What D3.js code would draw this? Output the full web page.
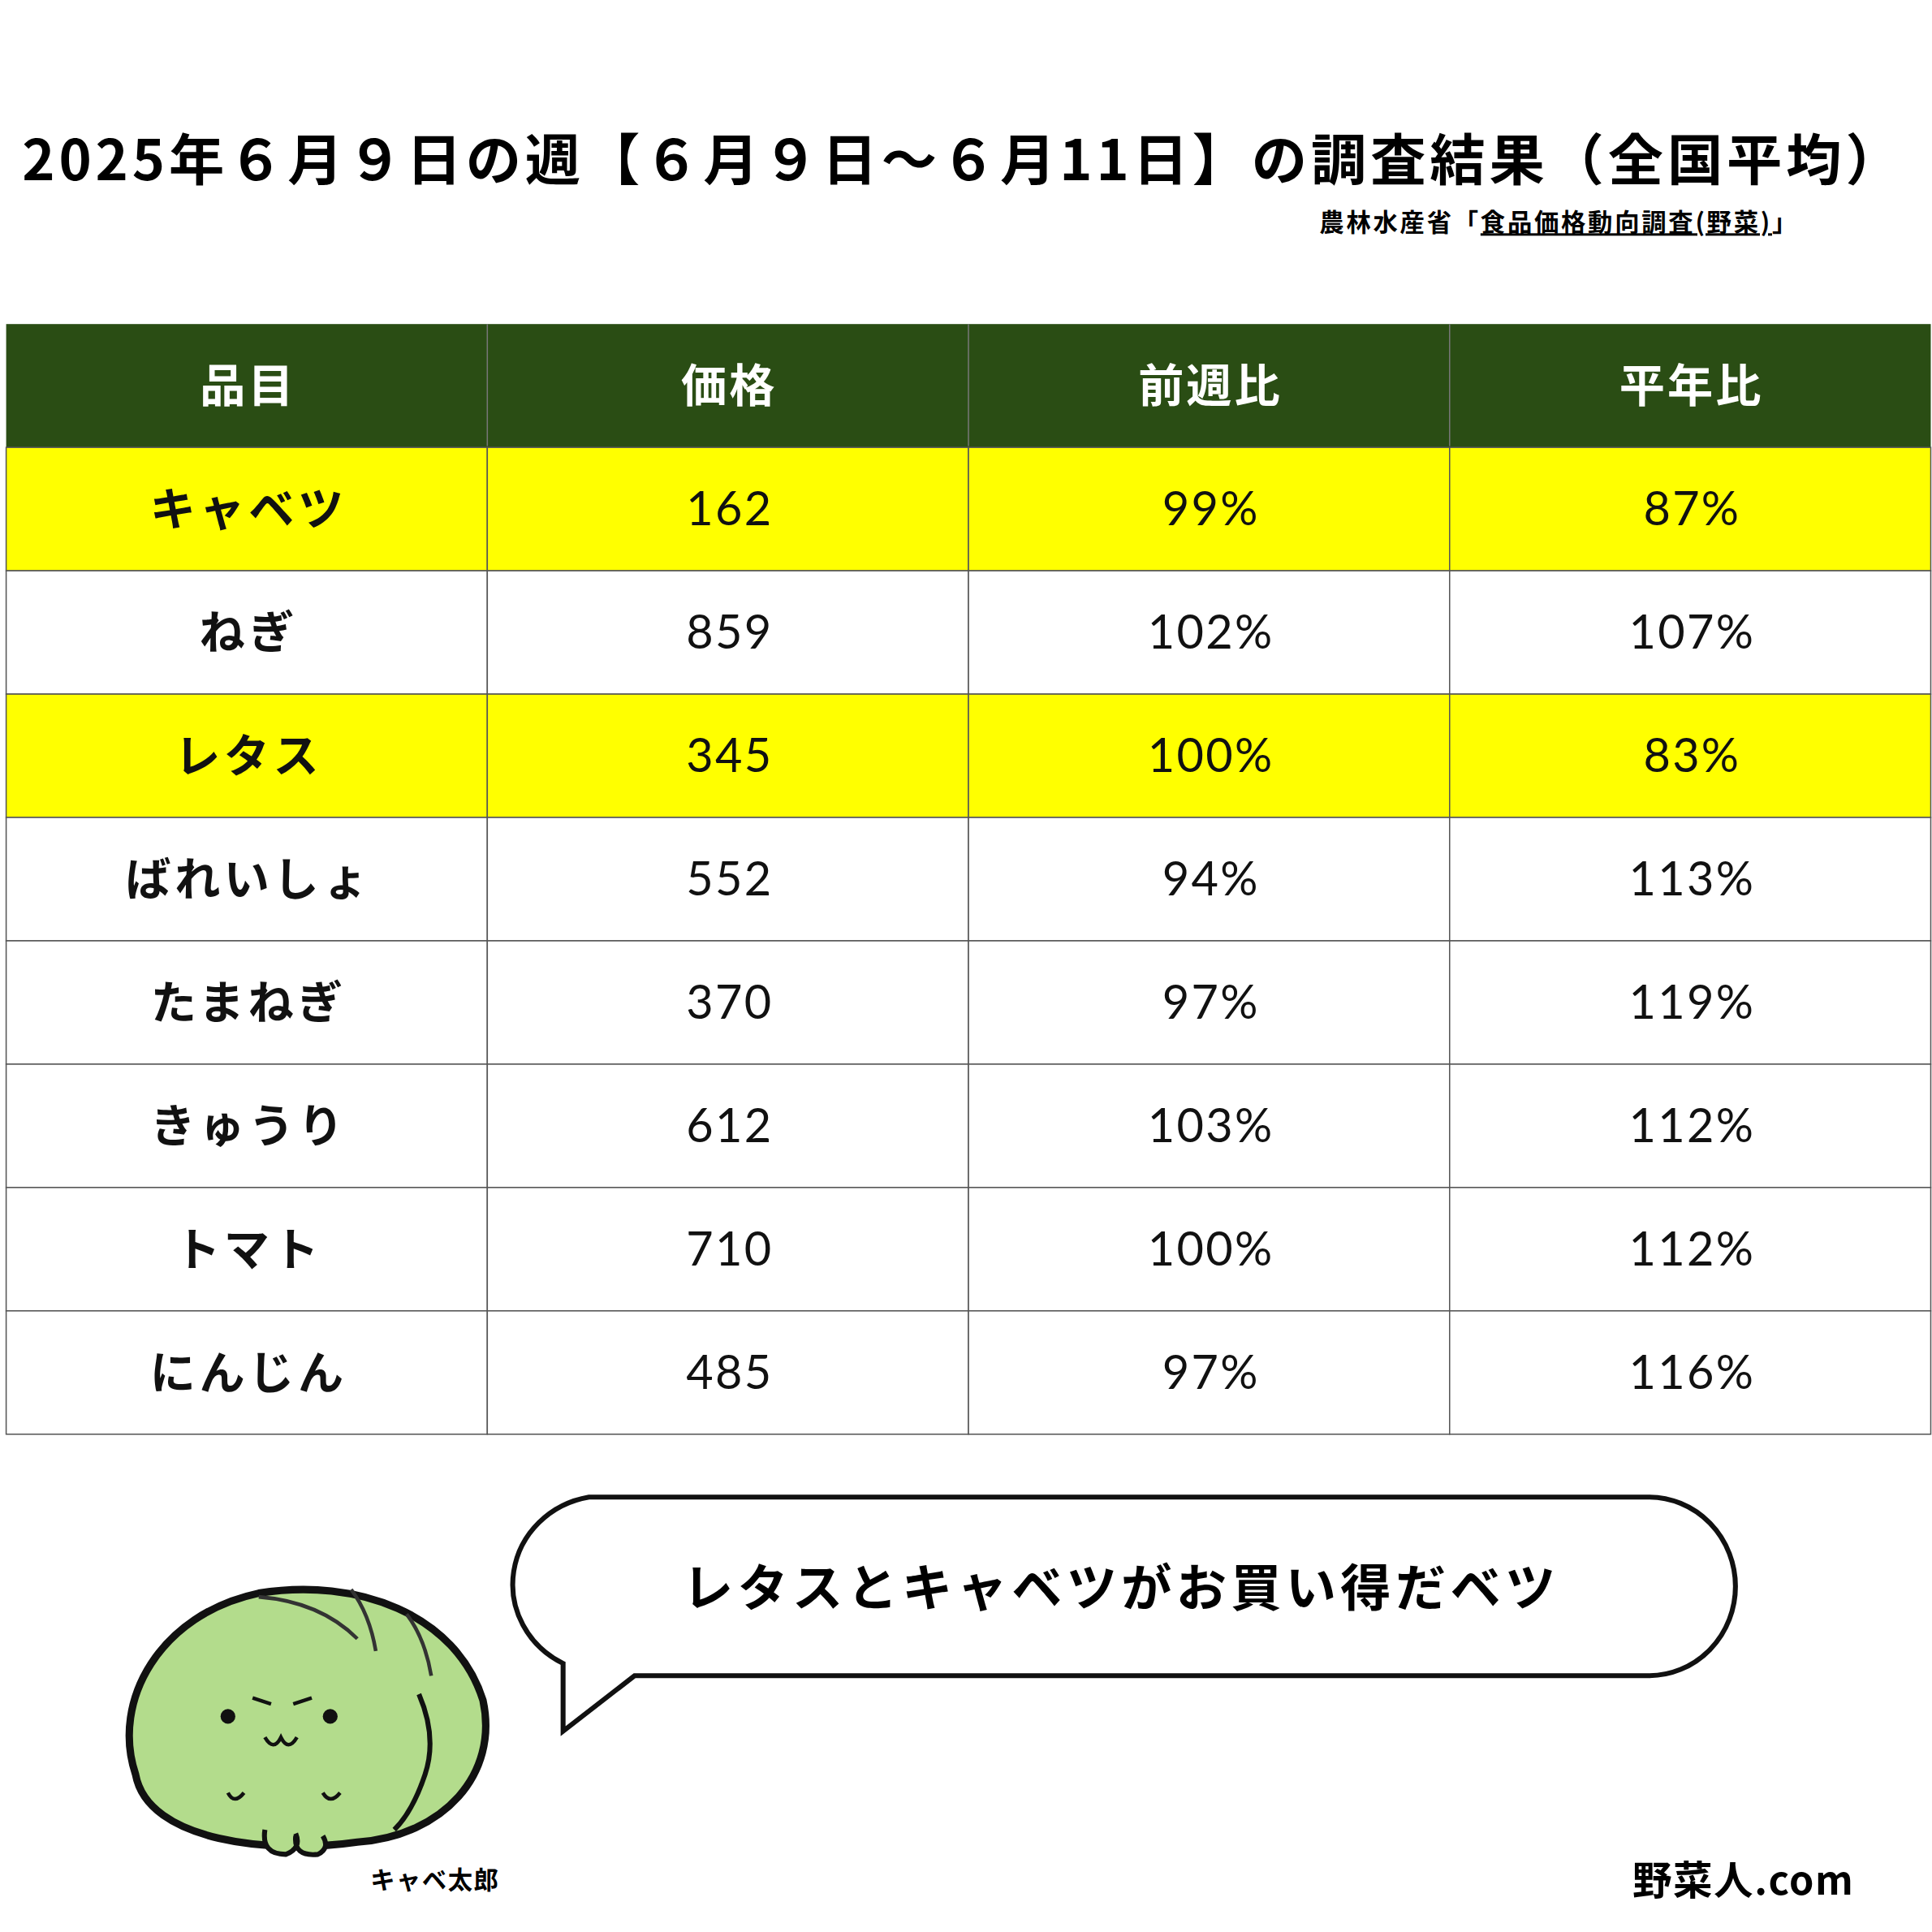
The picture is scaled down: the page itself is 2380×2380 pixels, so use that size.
<!DOCTYPE html>
<html><head><meta charset="utf-8">
<script src="https://cdn.jsdelivr.net/npm/d3@7"></script>
<style>body{margin:0;background:#fff}</style></head>
<body><script>
const headers=["品目","価格","前週比","平年比"];
const items=["キャベツ","ねぎ","レタス","ばれいしょ","たまねぎ","きゅうり","トマト","にんじん"];
const prices=[162,859,345,552,370,612,710,485];
const weekRatio=[99,102,100,94,97,103,100,97];
const normalRatio=[87,107,83,113,119,112,112,116];
const highlighted=["キャベツ","レタス"];

const W=1568;
const svg=d3.select("body").append("svg").attr("width",2380).attr("height",2380)
 .attr("viewBox",`0 0 ${W} ${W}`).style("font-family","'Noto Sans CJK JP','Noto Sans',sans-serif");
svg.append("rect").attr("width",W).attr("height",W).attr("fill","#fff");

svg.append("text").attr("x",18).attr("y",146).attr("font-size",45).attr("font-weight",700).attr("letter-spacing",3.2)
 .text("2025年６月９日の週【６月９日～６月11日】の調査結果（全国平均）");
const src=svg.append("text").attr("x",1460).attr("y",188).attr("text-anchor","end").attr("font-size",20).attr("font-weight",700).attr("letter-spacing",1.8);
src.append("tspan").text("農林水産省「");
src.append("tspan").attr("text-decoration","underline").text("食品価格動向調査(野菜)");
src.append("tspan").text("」");

const x=d3.scaleBand().domain(headers).range([5,1567]);
const y=d3.scaleBand().domain(["h",...items]).range([263,1164]);
const g=svg.append("g");
g.append("rect").attr("x",5).attr("y",y("h")).attr("width",1562).attr("height",y.bandwidth()).attr("fill","#2a4d14");
headers.forEach(h=>g.append("text").attr("x",x(h)+x.bandwidth()/2+1).attr("y",y("h")+y.bandwidth()/2+13)
 .attr("text-anchor","middle").attr("fill","#fff").attr("font-size",37).attr("font-weight",700).attr("letter-spacing",2).text(h));
items.forEach((it,i)=>{
 const vals=[it,prices[i],weekRatio[i]+"%",normalRatio[i]+"%"];
 headers.forEach((h,j)=>{
  g.append("rect").attr("x",x(h)).attr("y",y(it)).attr("width",x.bandwidth()).attr("height",y.bandwidth())
   .attr("fill",highlighted.includes(it)?"#ffff00":"#fff").attr("stroke","#555").attr("stroke-width",1);
  g.append("text").attr("x",x(h)+x.bandwidth()/2+1.5).attr("y",y(it)+y.bandwidth()/2+13).attr("text-anchor","middle")
   .attr("font-size",j==0?37:38).attr("font-weight",j==0?700:400).attr("fill","#111")
   .attr("letter-spacing",j==0?3:1.5)
   .style("font-family",j==0?null:"'Lato','Noto Sans',sans-serif").text(vals[j]);
 });
});
headers.forEach((h,j)=>{ if(j>0) g.append("line").attr("x1",x(h)).attr("x2",x(h)).attr("y1",263).attr("y2",362).attr("stroke","#777");});

// speech bubble
svg.append("path").attr("d","M478,1215 H1338 A70,72 0 0 1 1338,1360 H515 L457,1405 L457,1350 A75,72 0 0 1 478,1215 Z")
 .attr("fill","#fff").attr("stroke","#111").attr("stroke-width",4);
svg.append("text").attr("x",910).attr("y",1304).attr("text-anchor","middle").attr("font-size",41).attr("font-weight",700).attr("letter-spacing",3.5).text("レタスとキャベツがお買い得だベツ");

// cabbage character
const c=svg.append("g");
c.append("path").attr("d","M110,1440 C90,1380 130,1310 210,1293 C290,1280 370,1310 392,1380 C405,1440 360,1490 290,1495 C220,1505 120,1495 110,1440 Z")
 .attr("fill","#b3dc8c").attr("stroke","#111").attr("stroke-width",6);
c.append("path").attr("d","M215,1485 Q212,1505 232,1505 Q245,1500 240,1488 M240,1490 Q238,1507 258,1505 Q268,1500 262,1490").attr("fill","#b3dc8c").attr("stroke","#111").attr("stroke-width",4);
c.append("path").attr("d","M210,1296 Q260,1300 290,1330 M285,1290 Q300,1310 305,1340 M330,1310 Q345,1330 350,1360").attr("fill","none").attr("stroke","#333").attr("stroke-width",3);
c.append("path").attr("d","M340,1375 Q355,1410 345,1440 Q335,1470 320,1485").attr("fill","none").attr("stroke","#111").attr("stroke-width",4);
c.append("circle").attr("cx",185).attr("cy",1393).attr("r",6).attr("fill","#111");
c.append("circle").attr("cx",268).attr("cy",1393).attr("r",6).attr("fill","#111");
c.append("path").attr("d","M205,1378 L220,1383 M238,1383 L253,1378 M215,1410 Q222,1422 228,1410 Q234,1422 241,1410 M185,1455 Q190,1465 198,1455 M262,1455 Q268,1465 276,1455")
 .attr("fill","none").attr("stroke","#111").attr("stroke-width",3);
svg.append("text").attr("x",353).attr("y",1533).attr("text-anchor","middle").attr("font-size",20).attr("font-weight",700).attr("letter-spacing",1).text("キャベ太郎");
svg.append("text").attr("x",1505).attr("y",1538).attr("text-anchor","end").attr("font-size",32).attr("font-weight",700).attr("letter-spacing",1).text("野菜人.com");
</script></body></html>
